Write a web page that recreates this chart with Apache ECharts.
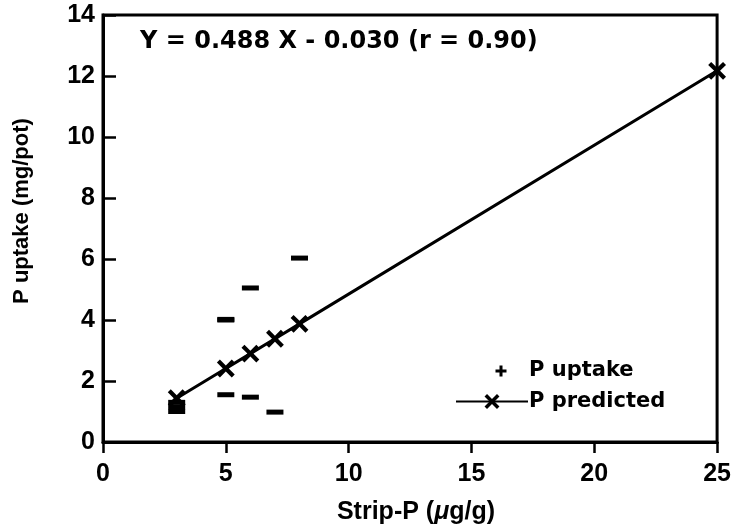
<!DOCTYPE html>
<html>
<head>
<meta charset="utf-8">
<script src="https://cdn.jsdelivr.net/npm/echarts@6/dist/echarts.min.js"></script>
<style>
  html, body { margin: 0; padding: 0; background: #fff; }
  #chart { width: 734px; height: 530px; }
</style>
</head>
<body>
<div id="chart"></div>
<script>
// Measured P uptake per pot against strip-extractable P
const uptakeX = [3, 3, 3, 5, 5, 5, 6, 6, 7, 8];
const uptakeY = [1.0, 1.15, 1.3, 4.0, 4.02, 1.55, 5.05, 1.47, 0.98, 6.03];

// Predicted uptake from the fitted regression
const predictedX = [3, 5, 6, 7, 8, 25];
const predictedY = [1.434, 2.41, 2.898, 3.386, 3.874, 12.17];

// Axis ticks
const xTicks = [0, 5, 10, 15, 20, 25];
const yTicks = [0, 2, 4, 6, 8, 10, 12, 14];

const equationText = 'Y = 0.488 X - 0.030 (r = 0.90)';

// plus-shaped marker (rotated 45 degrees it becomes the "x" marker)
const PLUS = 'path://M4,0H6V4H10V6H6V10H4V6H0V4H4Z';
// legend plus: cross inside a 72x22 box so it sits right of centre
const LEGEND_PLUS = 'path://M0,0M72,22M43.5,5.5H46.5V9.5H50.5V12.5H46.5V16.5H43.5V12.5H39.5V9.5H43.5Z';
const AXIS_FONT = 'Liberation Sans, Arial, sans-serif';
const TEXT_FONT = 'DejaVu Sans, sans-serif';

const chart = echarts.init(document.getElementById('chart'), null, { renderer: 'canvas' });

chart.setOption({
  backgroundColor: '#fff',
  animation: false,
  grid: {
    left: 103, right: 16, top: 15, bottom: 88,
    show: true, borderColor: '#000', borderWidth: 3, backgroundColor: 'transparent'
  },
  xAxis: {
    type: 'value',
    min: xTicks[0], max: xTicks[xTicks.length - 1], interval: xTicks[1] - xTicks[0],
    axisLine: { show: true, onZero: false, lineStyle: { color: '#000', width: 3 } },
    axisTick: { show: true, inside: false, length: 11, lineStyle: { color: '#000', width: 2.5 } },
    axisLabel: { color: '#000', fontSize: 25, fontWeight: 'bold', fontFamily: AXIS_FONT, margin: 20 },
    splitLine: { show: false }
  },
  yAxis: {
    type: 'value',
    min: yTicks[0], max: yTicks[yTicks.length - 1], interval: yTicks[1] - yTicks[0],
    axisLine: { show: true, onZero: false, lineStyle: { color: '#000', width: 3 } },
    axisTick: { show: true, inside: true, length: 13, lineStyle: { color: '#000', width: 2.5 } },
    axisLabel: { color: '#000', fontSize: 25, fontWeight: 'bold', fontFamily: AXIS_FONT, margin: 8 },
    splitLine: { show: false }
  },
  legend: {
    orient: 'vertical',
    left: 450, top: 355,
    itemWidth: 72, itemHeight: 22, itemGap: 7,
    textStyle: { color: '#000', fontSize: 21, fontWeight: 'bold', fontFamily: TEXT_FONT, padding: [0, 0, 0, -4] },
    data: [
      { name: 'P uptake', icon: LEGEND_PLUS },
      { name: 'P predicted' }
    ]
  },
  series: [
    {
      name: 'P predicted',
      type: 'line',
      data: predictedX.map((x, i) => [x, predictedY[i]]),
      symbol: PLUS,
      symbolRotate: 45,
      symbolSize: 21,
      showAllSymbol: true,
      lineStyle: { color: '#000', width: 3 },
      itemStyle: { color: '#000', opacity: 1 },
      z: 3
    },
    {
      name: 'P uptake',
      type: 'scatter',
      data: uptakeX.map((x, i) => [x, uptakeY[i]]),
      symbol: 'rect',
      symbolSize: [17, 5],
      itemStyle: { color: '#000', opacity: 1 },
      z: 2
    }
  ],
  graphic: [
    {
      type: 'text', left: 140, top: 30,
      style: { text: equationText, fill: '#000', font: 'bold 24px ' + TEXT_FONT }
    },
    {
      type: 'text', x: 22, y: 211, rotation: Math.PI / 2,
      style: {
        text: 'P uptake (mg/pot)', fill: '#000', align: 'center', verticalAlign: 'middle',
        font: 'bold 22px ' + AXIS_FONT
      }
    },
    {
      type: 'text', x: 416, y: 512,
      style: {
        text: '{a|Strip-P (}{b|μ}{a|g/g)}', align: 'center', verticalAlign: 'middle',
        rich: {
          a: { fill: '#000', fontSize: 25, fontWeight: 'bold', fontFamily: AXIS_FONT },
          b: { fill: '#000', fontSize: 25, fontWeight: 'bold', fontStyle: 'italic', fontFamily: AXIS_FONT }
        }
      }
    }
  ]
});
</script>
</body>
</html>
